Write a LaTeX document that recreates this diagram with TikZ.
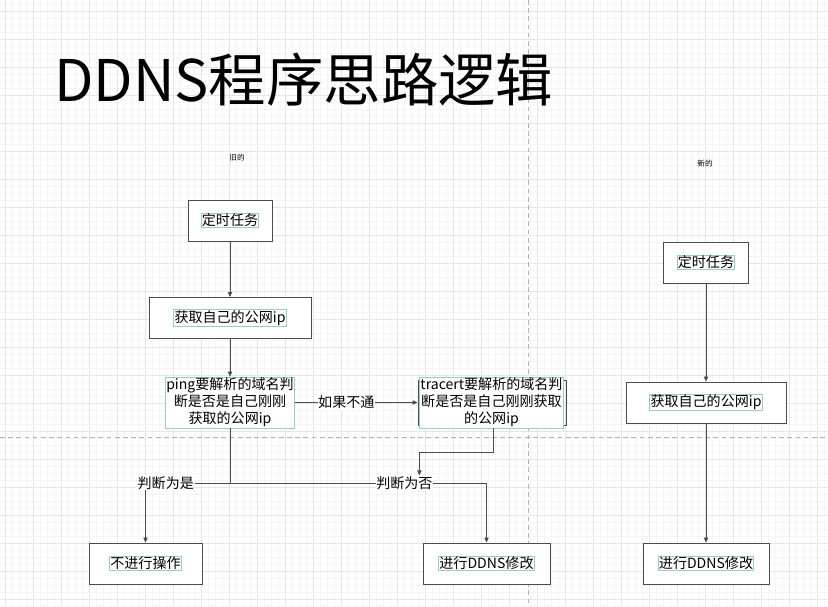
\documentclass[tikz,border=0pt]{standalone}
\usepackage{fontspec}
\setmainfont{Noto Sans CJK SC}
\usetikzlibrary{arrows.meta,positioning}

\begin{document}
\begin{tikzpicture}[
  x=0.03cm, y=-0.03cm,
  font=\fontsize{12}{14.4}\selectfont,
  box/.style={
    draw=black!70, fill=white, line width=0.75pt,
    minimum height=1.23cm, inner sep=0pt
  },
  txt/.style={draw=teal!40, line width=0.6pt, inner sep=0.6pt, align=center},
  frame/.style={draw=black!70, line width=0.8pt, minimum height=1.35cm},
  flow/.style={-{Triangle[length=1.5mm, width=1.3mm]}, draw=black!70, line width=0.6pt},
  line/.style={draw=black!70, line width=0.6pt},
  tag/.style={fill=white, inner sep=0.6pt},
  note/.style={font=\fontsize{6.5}{7}\selectfont},
]

% ---- canvas: grid and page breaks --------------------------------------
\useasboundingbox (0,0) rectangle (828,606);
\fill[white] (0,0) rectangle (828,606);
\foreach \x in {5,12,...,828} \draw[black!4, line width=0.5pt] (\x,0) -- (\x,606);
\foreach \y in {4,11,...,606} \draw[black!4, line width=0.5pt] (0,\y) -- (828,\y);
\foreach \x in {5,33,...,828} \draw[black!10, line width=0.6pt] (\x,0) -- (\x,606);
\foreach \y in {11,39,...,606} \draw[black!10, line width=0.6pt] (0,\y) -- (828,\y);
\draw[black!30, line width=0.6pt, dash pattern=on 4pt off 3pt] (528,0) -- (528,606);
\draw[black!30, line width=0.6pt, dash pattern=on 4pt off 3pt] (0,437) -- (828,437);

% ---- heading ------------------------------------------------------------
\node[font=\fontsize{49}{52}\selectfont, anchor=west, inner sep=0pt] (title) at (54,80)
  {DDNS程序思路逻辑};
\node[note] (oldtag) at (237,158) {旧的};
\node[note] (newtag) at (705,164) {新的};

% ---- old flow -----------------------------------------------------------
\node[box, minimum width=2.52cm] (timerL) at (230,220.5) {};
\node[txt] at (timerL) {定时任务};
\node[box, minimum width=4.86cm] (getipL) at (230,318) {};
\node[txt] at (getipL) {获取自己的公网ip};

\node[frame, minimum width=3.84cm] (ping) at (230,402.5) {};
\node[txt, fill=white, minimum width=3.78cm, minimum height=1.53cm] (pingtxt) at (ping)
  {ping要解析的域名判\\断是否是自己刚刚\\获取的公网ip};
\node[frame, minimum width=4.44cm] (tracert) at (492,402.5) {};
\node[txt, fill=white, minimum width=4.29cm, minimum height=1.53cm] (tracerttxt) at (491.5,402.5)
  {tracert要解析的域名判\\断是否是自己刚刚获取\\的公网ip};

\node[box, minimum width=3.39cm] (skip) at (145.5,563.5) {};
\node[txt] at (skip) {不进行操作};
\node[box, minimum width=3.81cm] (ddnsL) at (486.5,563.5) {};
\node[txt] at (ddnsL) {进行DDNS修改};

\draw[flow] (timerL) -- (getipL);
\draw[flow] (getipL) -- (pingtxt);
\draw[flow] (pingtxt.east) -- node[tag, pos=0.42] {如果不通} (tracert.west);

\coordinate (fork) at (230,483);
\draw[line] (pingtxt.south) -- (fork);
\draw[flow] (fork) -| node[tag, pos=0.38] {判断为是} (skip.north);
\draw[flow] (fork) -| node[tag, pos=0.34] (notag) {判断为否} (ddnsL.north);
\draw[flow] ([xshift=0.05cm]tracerttxt.south) -- ++(0,24) -| ([xshift=0.45cm]notag.north);

% ---- new flow -----------------------------------------------------------
\node[box, minimum width=2.55cm] (timerR) at (706,262.5) {};
\node[txt] at (timerR) {定时任务};
\node[box, minimum width=4.8cm] (getipR) at (706,402.5) {};
\node[txt] at (getipR) {获取自己的公网ip};
\node[box, minimum width=3.78cm] (ddnsR) at (706,563.5) {};
\node[txt] at (ddnsR) {进行DDNS修改};

\draw[flow] (timerR) -- (getipR);
\draw[flow] (getipR) -- (ddnsR);

\end{tikzpicture}
\end{document}
